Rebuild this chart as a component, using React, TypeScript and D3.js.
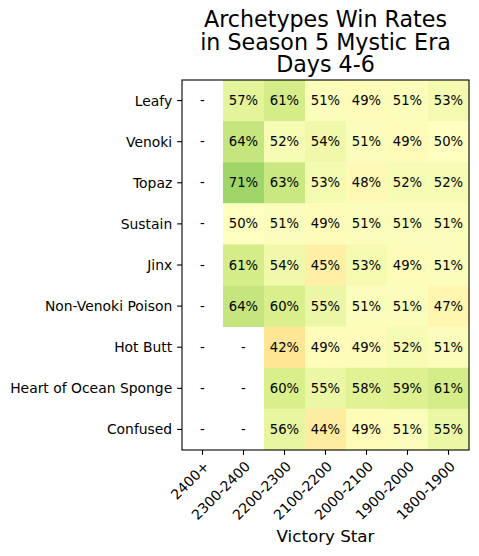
import React from "react";
import * as d3 from "d3";

const archetypes = [
  "Leafy",
  "Venoki",
  "Topaz",
  "Sustain",
  "Jinx",
  "Non-Venoki Poison",
  "Hot Butt",
  "Heart of Ocean Sponge",
  "Confused",
];
const brackets = ["2400+", "2300-2400", "2200-2300", "2100-2200", "2000-2100", "1900-2000", "1800-1900"];

// win rates in %, null = no data
const leafy = [null, 57, 61, 51, 49, 51, 53];
const venoki = [null, 64, 52, 54, 51, 49, 50];
const topaz = [null, 71, 63, 53, 48, 52, 52];
const sustain = [null, 50, 51, 49, 51, 51, 51];
const jinx = [null, 61, 54, 45, 53, 49, 51];
const nonVenokiPoison = [null, 64, 60, 55, 51, 51, 47];
const hotButt = [null, null, 42, 49, 49, 52, 51];
const heartOfOceanSponge = [null, null, 60, 55, 58, 59, 61];
const confused = [null, null, 56, 44, 49, 51, 55];

const rows: (number | null)[][] = [leafy, venoki, topaz, sustain, jinx, nonVenokiPoison, hotButt, heartOfOceanSponge, confused];

const rdylgn = ["#a50026", "#d73027", "#f46d43", "#fdae61", "#fee08b", "#ffffbf", "#d9ef8b", "#a6d96a", "#66bd63", "#1a9850", "#006837"];

export default function App() {
  const W = 479, H = 556;
  const left = 182, right = 469, top = 80, bottom = 450;
  const font = "DejaVu Sans, sans-serif";
  const x = d3.scaleBand().domain(brackets).range([left, right]);
  const y = d3.scaleBand().domain(archetypes).range([top, bottom]);
  const color = d3.scaleLinear<string>().domain(d3.range(11).map((i) => i * 10)).range(rdylgn).interpolate(d3.interpolateRgb).clamp(true);
  const tickLen = 4.9, pad = 4.9;

  return (
    <svg width={W} height={H} style={{ position: "absolute", left: 0, top: 0, background: "#fff" }} fontFamily={font}>
      <rect x={0} y={0} width={W} height={H} fill="#fff" />
      {rows.map((r, i) =>
        r.map((v, j) => {
          const cx = x(brackets[j])!, cy = y(archetypes[i])!;
          return (
            <g key={`${i}-${j}`}>
              {v !== null && (
                <rect x={cx} y={cy} width={x.bandwidth() + 0.3} height={y.bandwidth() + 0.3} fill={color(v)} />
              )}
              <text
                x={cx + x.bandwidth() / 2}
                y={cy + y.bandwidth() / 2}
                textAnchor="middle"
                dominantBaseline="central"
                fontSize={13.2}
                fill="#000"
              >
                {v === null ? "-" : `${v}%`}
              </text>
            </g>
          );
        })
      )}
      <rect x={left} y={top} width={right - left} height={bottom - top} fill="none" stroke="#000" strokeWidth={1.1} />
      {archetypes.map((a) => {
        const cy = y(a)! + y.bandwidth() / 2;
        return (
          <g key={a}>
            <line x1={left - tickLen} x2={left} y1={cy} y2={cy} stroke="#000" strokeWidth={1.1} />
            <text x={left - tickLen - pad} y={cy} textAnchor="end" dominantBaseline="central" fontSize={13.9} fill="#000">
              {a}
            </text>
          </g>
        );
      })}
      {brackets.map((b) => {
        const cx = x(b)! + x.bandwidth() / 2;
        const ay = bottom + tickLen + pad;
        return (
          <g key={b}>
            <line x1={cx} x2={cx} y1={bottom} y2={bottom + tickLen} stroke="#000" strokeWidth={1.1} />
            <text
              transform={`translate(${cx},${ay}) rotate(-45)`}
              textAnchor="end"
              dy="0.76em"
              fontSize={13.9}
              fill="#000"
            >
              {b}
            </text>
          </g>
        );
      })}
      <text x={(left + right) / 2} y={542} textAnchor="middle" fontSize={16.7} fill="#000">
        Victory Star
      </text>
      <text textAnchor="middle" fontSize={22.2} fill="#000">
        <tspan x={(left + right) / 2} y={27}>Archetypes Win Rates</tspan>
        <tspan x={(left + right) / 2} y={49.5}>in Season 5 Mystic Era</tspan>
        <tspan x={(left + right) / 2} y={72}>Days 4-6</tspan>
      </text>
    </svg>
  );
}
